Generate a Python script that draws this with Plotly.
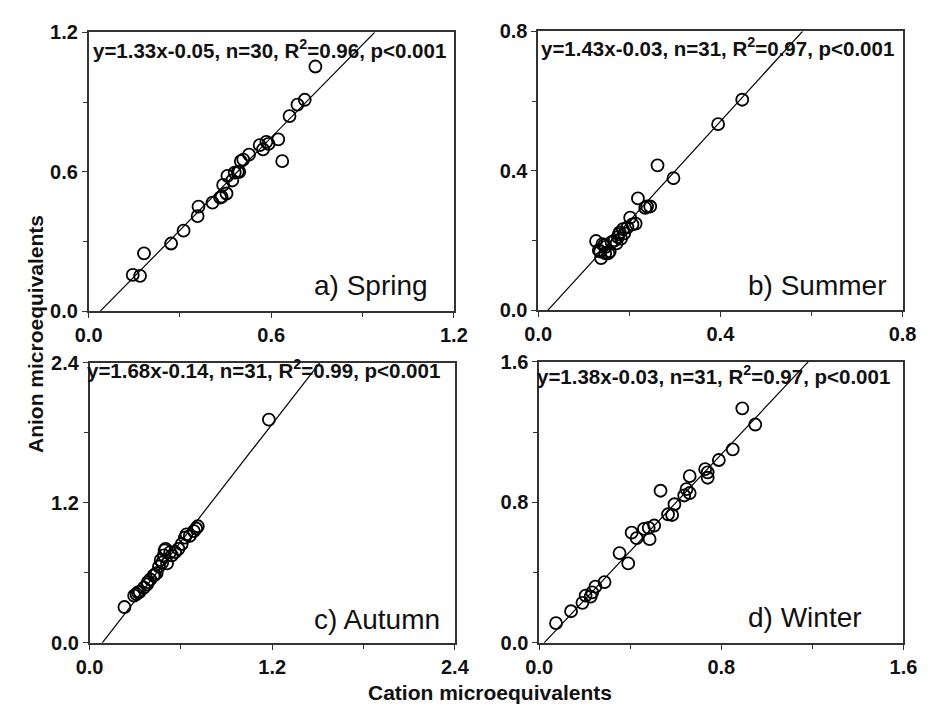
import plotly.graph_objects as go

W, H = 934, 712

# ---------------- data ----------------
spring_x = [0.145, 0.169, 0.182, 0.271, 0.312, 0.358, 0.361, 0.407, 0.432, 0.453,
            0.442, 0.456, 0.472, 0.480, 0.495, 0.508, 0.527, 0.562, 0.573, 0.584,
            0.591, 0.623, 0.636, 0.660, 0.686, 0.710, 0.745, 0.437, 0.500, 0.490]
spring_y = [0.157, 0.153, 0.250, 0.292, 0.347, 0.410, 0.451, 0.468, 0.489, 0.507,
            0.544, 0.583, 0.563, 0.597, 0.600, 0.653, 0.674, 0.715, 0.697, 0.729,
            0.720, 0.740, 0.646, 0.840, 0.889, 0.910, 1.053, 0.493, 0.646, 0.600]

summer_x = [0.448, 0.395, 0.297, 0.262, 0.246, 0.235, 0.219, 0.214, 0.202, 0.196,
            0.189, 0.179, 0.175, 0.168, 0.161, 0.157, 0.148, 0.141, 0.136, 0.138,
            0.127, 0.133, 0.182, 0.172, 0.147, 0.186, 0.207, 0.239, 0.145, 0.154, 0.177]
summer_y = [0.604, 0.534, 0.379, 0.416, 0.298, 0.294, 0.321, 0.249, 0.266, 0.238,
            0.221, 0.224, 0.210, 0.201, 0.196, 0.169, 0.182, 0.190, 0.169, 0.150,
            0.199, 0.173, 0.206, 0.192, 0.164, 0.233, 0.247, 0.298, 0.187, 0.164, 0.219]

autumn_x = [1.178, 0.229, 0.308, 0.329, 0.357, 0.378, 0.399, 0.420, 0.441, 0.456,
            0.477, 0.488, 0.499, 0.509, 0.530, 0.562, 0.584, 0.605, 0.637, 0.658,
            0.685, 0.711, 0.318, 0.382, 0.429, 0.467, 0.493, 0.541, 0.626, 0.700, 0.293]
autumn_y = [1.913, 0.307, 0.418, 0.437, 0.473, 0.501, 0.543, 0.576, 0.598, 0.653,
            0.687, 0.750, 0.806, 0.681, 0.778, 0.778, 0.806, 0.847, 0.930, 0.916,
            0.958, 0.999, 0.432, 0.520, 0.584, 0.709, 0.792, 0.750, 0.902, 0.980, 0.404]

winter_x = [0.074, 0.140, 0.190, 0.204, 0.226, 0.247, 0.287, 0.353, 0.391, 0.406,
            0.428, 0.481, 0.485, 0.505, 0.533, 0.566, 0.584, 0.594, 0.637, 0.647,
            0.661, 0.661, 0.729, 0.740, 0.740, 0.789, 0.850, 0.892, 0.949, 0.460, 0.233]
winter_y = [0.112, 0.180, 0.228, 0.269, 0.263, 0.320, 0.346, 0.511, 0.452, 0.627,
            0.596, 0.655, 0.590, 0.668, 0.866, 0.732, 0.728, 0.789, 0.839, 0.875,
            0.853, 0.949, 0.989, 0.971, 0.940, 1.041, 1.102, 1.335, 1.243, 0.649, 0.287]

season_labels = ["a) Spring", "b) Summer", "c) Autumn", "d) Winter"]
slopes = [1.33, 1.43, 1.68, 1.38]
intercepts = [-0.05, -0.03, -0.14, -0.03]
n_values = [30, 31, 31, 31]
r2_values = ["0.96", "0.97", "0.99", "0.97"]
axis_max = [1.2, 0.8, 2.4, 1.6]
major_ticks = [[0.0, 0.6, 1.2], [0.0, 0.4, 0.8], [0.0, 1.2, 2.4], [0.0, 0.8, 1.6]]
minor_ticks = [[0.3, 0.9], [0.2, 0.6], [0.6, 1.8], [0.4, 1.2]]
tick_text = [["0.0", "0.6", "1.2"], ["0.0", "0.4", "0.8"], ["0.0", "1.2", "2.4"], ["0.0", "0.8", "1.6"]]
x_title = "Cation microequivalents"
y_title = "Anion microequivalents"

xs = [spring_x, summer_x, autumn_x, winter_x]
ys = [spring_y, summer_y, autumn_y, winter_y]

# ---------------- layout geometry (pixels) ----------------
x_doms_px = [(77, 454), (541, 917), (78, 455), (542, 918)]
y_doms_px = [(22, 310), (21, 309), (363, 652), (362, 652)]
eq_pos_px = [(79, 39), (542, 37), (73, 369), (538, 376)]
lab_pos_px = [(308, 283), (755, 283), (308, 628), (755, 626)]

FONT = "Liberation Sans, Arial, sans-serif"
AX_COL = "#333333"

fig = go.Figure()
layout = dict(
    width=W, height=H, margin=dict(l=0, r=0, t=0, b=0),
    paper_bgcolor="white", plot_bgcolor="white", showlegend=False,
    font=dict(family=FONT, color="#111111"),
)
annotations = []

for i in range(4):
    sfx = "" if i == 0 else str(i + 1)
    xa, ya = "x" + sfx, "y" + sfx
    fig.add_trace(go.Scatter(
        x=xs[i], y=ys[i], mode="markers", xaxis=xa, yaxis=ya,
        marker=dict(symbol="circle-open", size=12, color="black", line=dict(width=1.8, color="black")),
    ))
    m = axis_max[i]
    a, b = slopes[i], intercepts[i]
    x0 = -b / a
    x1 = (m - b) / a
    fig.add_trace(go.Scatter(
        x=[x0, x1], y=[a * x0 + b, a * x1 + b], mode="lines", xaxis=xa, yaxis=ya,
        line=dict(color="black", width=1.2),
    ))
    xd = x_doms_px[i]
    yd = y_doms_px[i]
    common = dict(
        range=[0, m], showline=True, linecolor=AX_COL, linewidth=1.5, mirror=True,
        showgrid=False, zeroline=False, ticks="outside", ticklen=5, tickwidth=1.3,
        tickcolor=AX_COL, tickmode="array", tickvals=major_ticks[i], ticktext=tick_text[i],
        tickfont=dict(family=FONT, size=20, color="#111111", weight="bold"),
        minor=dict(tickmode="array", tickvals=minor_ticks[i], ticks="outside", ticklen=4,
                   tickwidth=1.3, tickcolor=AX_COL, showgrid=False),
        fixedrange=True,
    )
    layout["xaxis" + sfx] = dict(common, domain=[xd[0] / W, xd[1] / W], anchor=ya)
    layout["yaxis" + sfx] = dict(common, domain=[1 - yd[1] / H, 1 - yd[0] / H], anchor=xa)

    sign = "-" if b < 0 else "+"
    eq = "y=%.2fx%s%.2f, n=%d, R<sup>2</sup>=%s, p<0.001" % (a, sign, abs(b), n_values[i], r2_values[i])
    ex, ey = eq_pos_px[i]
    annotations.append(dict(
        text=eq, x=ex / W, y=1 - ey / H, xref="paper", yref="paper",
        xanchor="left", yanchor="middle", showarrow=False,
        font=dict(family=FONT, size=20.5, color="#111111", weight="bold"),
    ))
    lx, ly = lab_pos_px[i]
    annotations.append(dict(
        text=season_labels[i], x=lx / W, y=1 - ly / H, xref="paper", yref="paper",
        xanchor="left", yanchor="middle", showarrow=False,
        font=dict(family=FONT, size=28, color="#111111"),
    ))

annotations.append(dict(
    text=x_title, x=491 / W, y=1 - 703 / H, xref="paper", yref="paper",
    xanchor="center", yanchor="middle", showarrow=False,
    font=dict(family=FONT, size=21, color="#111111", weight="bold"),
))
annotations.append(dict(
    text=y_title, x=22 / W, y=1 - 333 / H, xref="paper", yref="paper",
    xanchor="center", yanchor="middle", showarrow=False, textangle=-90,
    font=dict(family=FONT, size=21, color="#111111", weight="bold"),
))
layout["annotations"] = annotations
fig.update_layout(**layout)
fig.write_html("out.html")
